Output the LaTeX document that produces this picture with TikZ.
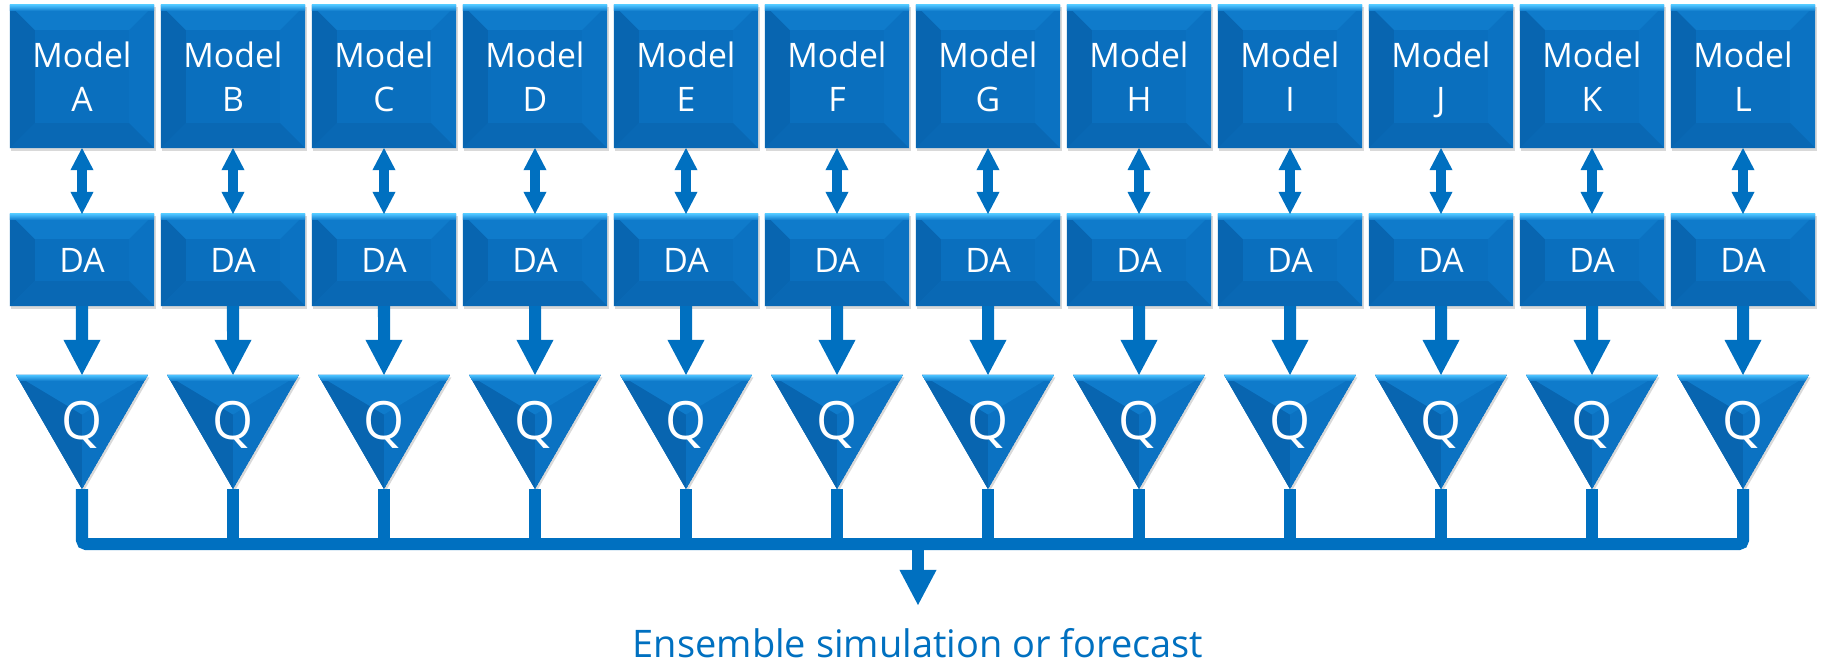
\documentclass[tikz,border=0pt]{standalone}
\usepackage{fontspec}
\setmainfont{Open Sans}
\usepackage{xcolor}
\usepackage{tikz}
\usetikzlibrary{arrows.meta}
\usetikzlibrary{positioning, shapes.geometric, shadows}
\definecolor{lineBlue}{HTML}{0070C0}
\definecolor{boxBlue}{HTML}{0A6FBE}
\definecolor{topBlue}{HTML}{0F7BCB}
\definecolor{hiBlue}{HTML}{4CC2FF}
\definecolor{leftBlue}{HTML}{0865B0}
\definecolor{rightBlue}{HTML}{0B72C2}
\definecolor{bottomBlue}{HTML}{0968B4}
\tikzset{
bevel box/.style = { rectangle, draw = none, fill = boxBlue, text = white, inner sep = 0pt, outer sep = 0pt, minimum width = 1.44cm,
    drop shadow = {shadow xshift = 0.015cm, shadow yshift = -0.025cm, opacity = 0.3},
    path picture = {
        \path (path picture bounding box.north west) coordinate (nw) (path picture bounding box.north east) coordinate (ne)
              (path picture bounding box.south west) coordinate (sw) (path picture bounding box.south east) coordinate (se);
        \fill[leftBlue] (nw) -- ([shift = {(0.25cm, -0.25cm)}]nw) -- ([shift = {(0.25cm, 0.25cm)}]sw) -- (sw) -- cycle;
        \fill[rightBlue] (ne) -- ([shift = {(-0.25cm, -0.25cm)}]ne) -- ([shift = {(-0.25cm, 0.25cm)}]se) -- (se) -- cycle;
        \fill[bottomBlue] (sw) -- ([shift = {(0.25cm, 0.25cm)}]sw) -- ([shift = {(-0.25cm, 0.25cm)}]se) -- (se) -- cycle;
        \fill[topBlue] (nw) -- ([shift = {(0.25cm, -0.25cm)}]nw) -- ([shift = {(-0.25cm, -0.25cm)}]ne) -- (ne) -- cycle;
        \shade[top color = hiBlue, bottom color = topBlue] (nw) rectangle ([yshift = -0.06cm]ne);
    }
},
model box/.style = { bevel box, minimum height = 1.43cm, align = center, font = \fontsize{9.6pt}{12.5pt}\selectfont, text depth = 0pt },
da box/.style = { bevel box, minimum height = 0.92cm, font = \fontsize{9.6pt}{12.5pt}\selectfont },
q tri/.style = { regular polygon, regular polygon sides = 3, shape border rotate = 180, minimum size = 1.397cm,
    draw = none, fill = boxBlue, text = white, inner sep = 0pt, outer sep = 0pt,
    font = \fontsize{15pt}{18pt}\selectfont, text height = 15.3pt, text depth = 0pt,
    drop shadow = {shadow xshift = 0.015cm, shadow yshift = -0.025cm, opacity = 0.3},
    path picture = {
        \path (path picture bounding box.north west) coordinate (nw) (path picture bounding box.north east) coordinate (ne)
              (path picture bounding box.south) coordinate (tip) ([yshift = 0.175cm]path picture bounding box.center) coordinate (mid);
        \fill[leftBlue] (nw) -- (mid) -- (tip) -- cycle;
        \fill[rightBlue] (ne) -- (mid) -- (tip) -- cycle;
        \fill[topBlue] (nw) -- (ne) -- (mid) -- cycle;
        \shade[top color = hiBlue, bottom color = topBlue] (nw) rectangle ([yshift = -0.06cm]ne);
    }
},
two way/.style = { draw = lineBlue, line width = 0.1cm,
    arrows = {Triangle[width = 0.23cm, length = 0.22cm, line width = 0pt]-Triangle[width = 0.23cm, length = 0.22cm, line width = 0pt]} },
one way/.style = { draw = lineBlue, line width = 0.12cm, arrows = {-Triangle[width = 0.37cm, length = 0.35cm, line width = 0pt]} },
bus line/.style = { draw = lineBlue, line width = 0.12cm, rounded corners = 0.04cm },
out text/.style = { anchor = north, inner sep = 0pt, outer sep = 0pt, text = lineBlue, font = \fontsize{10.8pt}{13pt}\selectfont,
    text height = 0.52cm, text depth = 0pt },
}
\tikzset{
pics/column/.style = {
        code = {
        \node[model box] (-model) at (0, 0) {Model\\#1};
        \node[da box] (-da) at (0, 183.5) {DA};
        \node[q tri] (-q) at (0, 336.5) {Q};
        \draw[two way] (-model.south) -- (-da.north);
        \draw[one way] (-da.south) -- (-q.north);
        }
    }
}
\begin{document}
\begin{tikzpicture}[x = 0.01cm, y = -0.01cm]
      \useasboundingbox (0, 0) rectangle (1823, 663);
      \path (82, 76.5) pic (cA) {column = A};
      \path (233, 76.5) pic (cB) {column = B};
      \path (384, 76.5) pic (cC) {column = C};
      \path (535, 76.5) pic (cD) {column = D};
      \path (686, 76.5) pic (cE) {column = E};
      \path (837, 76.5) pic (cF) {column = F};
      \path (988, 76.5) pic (cG) {column = G};
      \path (1139, 76.5) pic (cH) {column = H};
      \path (1290, 76.5) pic (cI) {column = I};
      \path (1441, 76.5) pic (cJ) {column = J};
      \path (1592, 76.5) pic (cK) {column = K};
      \path (1743, 76.5) pic (cL) {column = L};
      \coordinate (bus) at (918, 544);
      \draw[bus line] (cA-q.south) |- (bus) -| (cL-q.south);
      \draw[bus line] (cB-q.south) -- (cB-q.south |- bus);
      \draw[bus line] (cC-q.south) -- (cC-q.south |- bus);
      \draw[bus line] (cD-q.south) -- (cD-q.south |- bus);
      \draw[bus line] (cE-q.south) -- (cE-q.south |- bus);
      \draw[bus line] (cF-q.south) -- (cF-q.south |- bus);
      \draw[bus line] (cG-q.south) -- (cG-q.south |- bus);
      \draw[bus line] (cH-q.south) -- (cH-q.south |- bus);
      \draw[bus line] (cI-q.south) -- (cI-q.south |- bus);
      \draw[bus line] (cJ-q.south) -- (cJ-q.south |- bus);
      \draw[bus line] (cK-q.south) -- (cK-q.south |- bus);
      \node[out text] (out) at (918, 605) {Ensemble simulation or forecast};
      \draw[one way] (bus) -- (out.north);
    \end{tikzpicture}
\end{document}
